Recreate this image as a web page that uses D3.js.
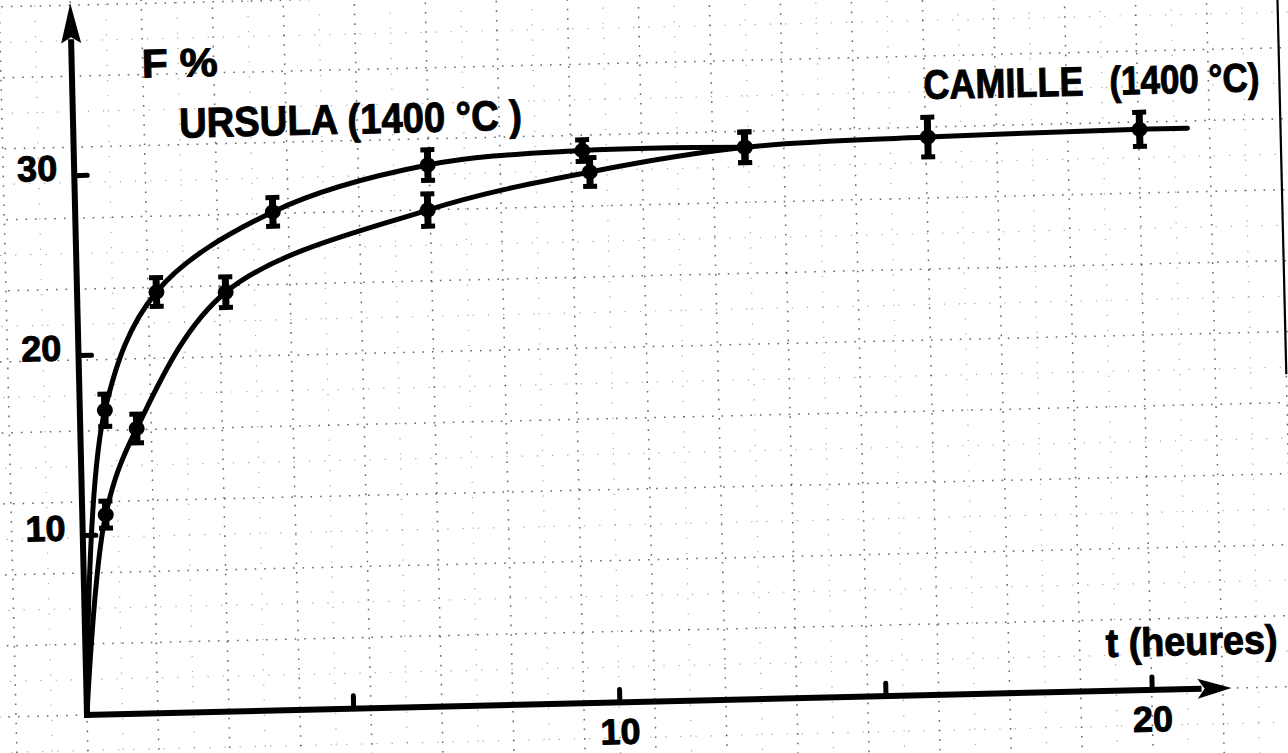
<!DOCTYPE html>
<html>
<head>
<meta charset="utf-8">
<script src="https://cdn.jsdelivr.net/npm/d3@7"></script>
<style>
  html, body { margin: 0; padding: 0; background: #fff; overflow: hidden; }
  svg { display: block; background: #fff; }
  text { font-family: "Liberation Sans", Arial, sans-serif; font-weight: bold; fill: #000; white-space: pre; }
  .heavy { stroke: #000; stroke-width: 1; }
</style>
</head>
<body>
<svg id="chart" width="1288" height="753"></svg>
<script>
// Fraction F (%) against annealing time t (hours) for two samples at 1400 °C
const ursulaT   = [0.47, 1.49, 3.71, 6.64, 9.55, 12.6];
const ursulaF   = [16.9, 23.4, 27.7, 30.1, 30.7, 30.67];
const ursulaErr = [0.9, 0.8, 0.8, 0.85, 0.6, 0.85];

const camilleT   = [0.44, 1.06, 2.79, 6.62, 9.68, 12.6, 16.04, 20.02];
const camilleF   = [11.1, 15.85, 23.3, 27.6, 29.5, 30.67, 31.0, 31.15];
const camilleErr = [0.75, 0.8, 0.85, 0.9, 0.8, 0.85, 1.1, 0.95];

// both fitted curves leave the origin; CAMILLE's curve carries on past its last point
const curveStart = { t: 0, f: 0 };
const camilleCurveEnd = { t: 20.92, f: 31.15 };

const xTicks = [5, 10, 15, 20];
const xTickLabels = [10, 20];
const yTicks = [10, 20, 30];

const xMax = 21.5;   // end of the time axis (arrow tip)
const yMax = 39.55;  // end of the F axis (arrow tip)

const xLabel = "t (heures)";
const yLabel = "F %";
const ursulaLabel = "URSULA (1400 °C )";
const camilleName = "CAMILLE";
const camilleTemp = "(1400 °C)";

// ---- layout ----
const svg = d3.select("#chart");
const origin = [87, 715];
const tilt = -1.35;               // the whole sheet sits slightly askew
const pxPerHour = 53.25;
const pxPerUnit = 18.0;
const paperStep = 71;             // graph-paper pitch

const x = d3.scaleLinear().domain([0, xMax]).range([0, xMax * pxPerHour]);
const y = d3.scaleLinear().domain([0, yMax]).range([0, -yMax * pxPerUnit]);

const sheet = svg.append("g")
  .attr("transform", `translate(${origin[0]},${origin[1]}) rotate(${tilt})`);

// ---- graph paper ----
const paper = sheet.append("g").attr("class", "paper");
const cols = d3.range(-3, 21);
const rows = d3.range(-2, 13);
const uMin = -3 * paperStep, uMax = 20 * paperStep;
const vMin = -2 * paperStep, vMax = 12 * paperStep;

// minor lines at half pitch
paper.selectAll("line.vminor").data(cols).join("line")
  .attr("x1", d => (d + 0.5) * paperStep).attr("x2", d => (d + 0.5) * paperStep)
  .attr("y1", -vMin).attr("y2", -vMax)
  .attr("stroke", "#000").attr("stroke-width", 1.2)
  .attr("stroke-dasharray", "1.2 14").attr("opacity", 0.35);
paper.selectAll("line.hminor").data(rows).join("line")
  .attr("y1", d => -(d + 0.5) * paperStep).attr("y2", d => -(d + 0.5) * paperStep)
  .attr("x1", uMin).attr("x2", uMax)
  .attr("stroke", "#000").attr("stroke-width", 1.2)
  .attr("stroke-dasharray", "1.2 14").attr("opacity", 0.35);

// major lines
paper.selectAll("line.vmajor").data(cols).join("line")
  .attr("x1", d => d * paperStep).attr("x2", d => d * paperStep)
  .attr("y1", -vMin).attr("y2", -vMax)
  .attr("stroke", "#000").attr("stroke-width", 1.5)
  .attr("stroke-dasharray", "1.6 8").attr("opacity", 0.6);
paper.selectAll("line.hmajor").data(rows).join("line")
  .attr("y1", d => -d * paperStep).attr("y2", d => -d * paperStep)
  .attr("x1", uMin).attr("x2", uMax)
  .attr("stroke", "#000").attr("stroke-width", 1.5)
  .attr("stroke-dasharray", "1.6 8").attr("opacity", 0.6);

// heavier ruling near the right edge of the sheet
paper.append("line")
  .attr("x1", 17 * paperStep).attr("x2", 17 * paperStep)
  .attr("y1", -4.4 * paperStep).attr("y2", -vMax)
  .attr("stroke", "#000").attr("stroke-width", 2.2);

// ---- axes ----
const axisG = sheet.append("g").attr("class", "axes");
const arrowLen = 34, arrowHalf = 10;

axisG.append("line")
  .attr("x1", -3).attr("y1", 0)
  .attr("x2", x(xMax) - arrowLen + 4).attr("y2", 0)
  .attr("stroke", "#000").attr("stroke-width", 6);
axisG.append("path")
  .attr("d", `M${x(xMax)},0 L${x(xMax) - arrowLen},${-arrowHalf} L${x(xMax) - arrowLen + 7},0 L${x(xMax) - arrowLen},${arrowHalf} Z`)
  .attr("fill", "#000");

axisG.append("line")
  .attr("x1", 0).attr("y1", 3)
  .attr("x2", 0).attr("y2", y(yMax) + arrowLen + 2)
  .attr("stroke", "#000").attr("stroke-width", 6);
axisG.append("path")
  .attr("d", `M0,${y(yMax)} L${-arrowHalf},${y(yMax) + arrowLen + 6} L0,${y(yMax) + arrowLen} L${arrowHalf},${y(yMax) + arrowLen + 6} Z`)
  .attr("fill", "#000");

// tick marks and labels through d3 axes (ticks point into the plot)
const xAxis = d3.axisBottom(x)
  .tickValues(xTicks)
  .tickSize(-13)
  .tickPadding(16)
  .tickFormat(d => xTickLabels.includes(d) ? String(d) : "");
const gx = sheet.append("g").call(xAxis);
gx.select(".domain").remove();
gx.selectAll(".tick line").attr("stroke", "#000").attr("stroke-width", 5).attr("stroke-linecap", "round");
gx.selectAll(".tick text").attr("font-size", 36).attr("class", "heavy")
  .style("font-family", "\"Liberation Sans\", Arial, sans-serif").attr("fill", "#000");

const yAxis = d3.axisLeft(y)
  .tickValues(yTicks)
  .tickSize(-13)
  .tickPadding(17)
  .tickFormat(d3.format("d"));
const gy = sheet.append("g").call(yAxis);
gy.select(".domain").remove();
gy.selectAll(".tick line").attr("stroke", "#000").attr("stroke-width", 5).attr("stroke-linecap", "round");
gy.selectAll(".tick text").attr("font-size", 36).attr("y", -7).attr("class", "heavy")
  .style("font-family", "\"Liberation Sans\", Arial, sans-serif").attr("fill", "#000");

// ---- fitted curves ----
const toPts = (T, F) => T.map((t, i) => ({ t, f: F[i] }));
const ursulaPts = toPts(ursulaT, ursulaF);
const camillePts = toPts(camilleT, camilleF);

const line = d3.line().x(d => x(d.t)).y(d => y(d.f)).curve(d3.curveCatmullRom.alpha(0.5));

sheet.append("path")
  .datum([curveStart, ...ursulaPts])
  .attr("d", line)
  .attr("fill", "none").attr("stroke", "#000").attr("stroke-width", 5)
  .attr("stroke-linecap", "round");
sheet.append("path")
  .datum([curveStart, ...camillePts, camilleCurveEnd])
  .attr("d", line)
  .attr("fill", "none").attr("stroke", "#000").attr("stroke-width", 5)
  .attr("stroke-linecap", "round");

// ---- measured points with error bars ----
function errorBars(T, F, E, cls) {
  const pts = T.map((t, i) => ({ t, f: F[i], e: E[i] }));
  const g = sheet.append("g").attr("class", cls)
    .selectAll("g").data(pts).join("g")
    .attr("transform", d => `translate(${x(d.t)},0)`);
  g.append("line")
    .attr("x1", 0).attr("x2", 0)
    .attr("y1", d => y(d.f - d.e)).attr("y2", d => y(d.f + d.e))
    .attr("stroke", "#000").attr("stroke-width", 7);
  g.append("line")
    .attr("x1", -7).attr("x2", 7)
    .attr("y1", d => y(d.f + d.e)).attr("y2", d => y(d.f + d.e))
    .attr("stroke", "#000").attr("stroke-width", 5);
  g.append("line")
    .attr("x1", -7).attr("x2", 7)
    .attr("y1", d => y(d.f - d.e)).attr("y2", d => y(d.f - d.e))
    .attr("stroke", "#000").attr("stroke-width", 5);
  g.append("ellipse")
    .attr("cx", 0).attr("cy", d => y(d.f))
    .attr("rx", 8).attr("ry", 7.5)
    .attr("fill", "#000");
}
errorBars(ursulaT, ursulaF, ursulaErr, "ursula");
errorBars(camilleT, camilleF, camilleErr, "camille");

// ---- titles ----
sheet.append("text").attr("x", 70).attr("y", -636).attr("class", "heavy")
  .attr("font-size", 40).attr("textLength", 76).attr("lengthAdjust", "spacingAndGlyphs")
  .text(yLabel);
sheet.append("text").attr("x", 106).attr("y", -575).attr("class", "heavy")
  .attr("font-size", 42).attr("textLength", 343).attr("lengthAdjust", "spacingAndGlyphs")
  .text(ursulaLabel);
sheet.append("text").attr("x", 851).attr("y", -596).attr("class", "heavy")
  .attr("font-size", 41).attr("textLength", 160).attr("lengthAdjust", "spacingAndGlyphs")
  .text(camilleName);
sheet.append("text").attr("x", 1037).attr("y", -596).attr("class", "heavy")
  .attr("font-size", 40).attr("textLength", 150).attr("lengthAdjust", "spacingAndGlyphs")
  .text(camilleTemp);
sheet.append("text").attr("x", 1020).attr("y", -34).attr("class", "heavy")
  .attr("font-size", 40).attr("textLength", 172).attr("lengthAdjust", "spacingAndGlyphs")
  .text(xLabel);
</script>
</body>
</html>
